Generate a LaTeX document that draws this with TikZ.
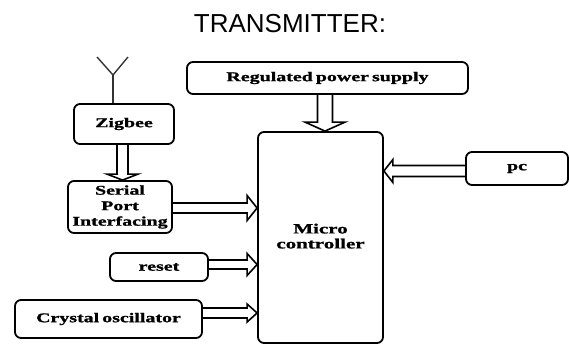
\documentclass[tikz,border=0pt]{standalone}
\usepackage{fontspec}
\usetikzlibrary{calc}
\newfontfamily\boxfont[FakeStretch=1.5,FakeBold=1.2,WordSpace=0.6]{Liberation Serif}
\newfontfamily\titlefont{Liberation Sans}
\newcommand\hollowarr[5]{%
  \coordinate (hb) at ($(#2)!#5!(#1)$);
  \draw[arrline] ($(#1)!#3!90:(#2)$) -- ($(hb)!#3!90:(#2)$) -- ($(hb)!#4!90:(#2)$) -- (#2)
    -- ($(hb)!#4!-90:(#2)$) -- ($(hb)!#3!-90:(#2)$) -- ($(#1)!#3!-90:(#2)$);}
\begin{document}
\begin{tikzpicture}[x=1pt,y=-1pt,
  blk/.style={draw, line width=1.8pt, rounded corners=6pt, inner sep=0pt,
    font=\boxfont\bfseries\fontsize{13.3}{15.5}\selectfont, align=center},
  arrline/.style={line width=1.6pt, line join=miter},
  antline/.style={line width=1.4pt, draw=black!80}]
\useasboundingbox (0,0) rectangle (569,345);
\node[font=\titlefont\fontsize{26}{30}\selectfont, anchor=base] (title) at (290,33) {TRANSMITTER:};
\node[blk, minimum width=100, minimum height=40] (zig) at (124,124) {Zigbee};
\node[blk, minimum width=104, minimum height=52] (serial) at (120,207) {Serial\\Port\\Interfacing};
\node[blk, minimum width=281, minimum height=32] (power) at (327.5,78) {Regulated power supply};
\node[blk, minimum width=125, minimum height=211, font=\boxfont\bfseries\fontsize{14}{17}\selectfont] (micro) at (320.5,237.5) {\raisebox{-4pt}{\begin{tabular}{@{}c@{}}Micro\\[-2pt]controller\end{tabular}}};
\node[blk, minimum width=102, minimum height=33] (pc) at (517,168.5) {pc};
\node[blk, minimum width=98, minimum height=28] (reset) at (159,267) {reset};
\node[blk, minimum width=187, minimum height=38] (crystal) at (108.5,319) {Crystal oscillator};
% antenna
\coordinate (antv) at (113,75);
\coordinate (antl) at (97,57);
\coordinate (antr) at (128,57);
\draw[antline] (antl) -- (antv) -- (antr);
\draw[antline] (antv) -- (antv |- zig.north);
% arrows
\coordinate (a1) at ($(zig.south)+(-1.5,0)$);
\coordinate (b1) at (a1 |- serial.north);
\hollowarr{a1}{b1}{5.5pt}{15.5pt}{6pt}
\coordinate (a2) at ($(serial.east)+(0,1)$);
\coordinate (b2) at (a2 -| micro.west);
\hollowarr{a2}{b2}{5pt}{12.5pt}{10pt}
\coordinate (a3) at ($(power.south)+(-2.5,0)$);
\coordinate (b3) at (a3 |- micro.north);
\hollowarr{a3}{b3}{7.5pt}{20pt}{9pt}
\coordinate (a4) at ($(pc.west)+(0,2.5)$);
\coordinate (b4) at (a4 -| micro.east);
\hollowarr{a4}{b4}{5.5pt}{11.5pt}{9pt}
\coordinate (a5) at ($(reset.east)+(0,-2.5)$);
\coordinate (b5) at (a5 -| micro.west);
\hollowarr{a5}{b5}{4.5pt}{11pt}{10pt}
\coordinate (a6) at ($(crystal.east)+(0,-6)$);
\coordinate (b6) at (a6 -| micro.west);
\hollowarr{a6}{b6}{5pt}{9pt}{10pt}
\end{tikzpicture}
\end{document}
